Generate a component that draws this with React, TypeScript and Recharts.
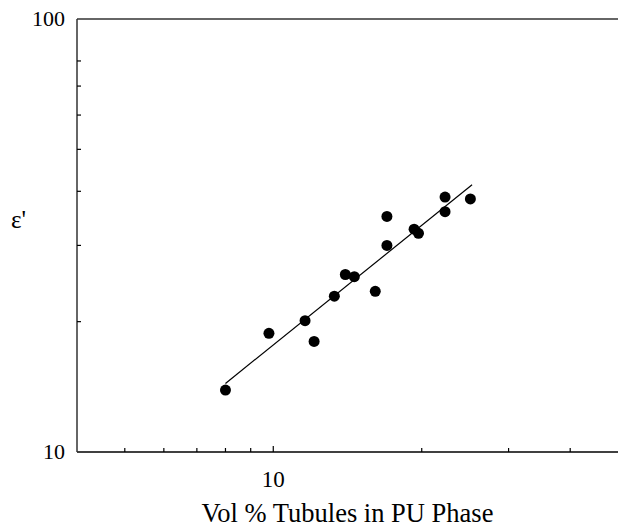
import React from "react";
import { ScatterChart, Scatter, XAxis, YAxis, ReferenceLine, Label } from "recharts";

// measured points (vol % tubules, epsilon')
const volPct = [8.0, 9.8, 12.1, 11.6, 13.3, 14.0, 14.6, 16.1, 17.0, 17.0, 19.3, 19.7, 22.3, 22.3, 25.1];
const epsilon = [13.9, 18.8, 18.0, 20.1, 22.9, 25.7, 25.4, 23.5, 30.0, 35.0, 32.7, 32.0, 35.9, 38.8, 38.4];

// fitted line end points
const fitX = [8.0, 25.3];
const fitY = [14.4, 41.4];

const xTicks = [5, 6, 7, 8, 9, 10, 20, 30, 40];
const yTicks = [10, 20, 30, 40, 50, 60, 70, 80, 90, 100];
const xLabelled = [10];
const yLabelled = [10, 100];

const points = volPct.map((v, i) => ({ x: v, y: epsilon[i] }));
const fit = fitX.map((v, i) => ({ x: v, y: fitY[i] }));

const serif = { fontFamily: "Liberation Serif, Times New Roman, serif" };

const XTick = (props: any) => {
  const { x, y, payload } = props;
  const major = xLabelled.includes(payload.value);
  return (
    <g>
      <line x1={x} x2={x} y1={y} y2={y - (major ? 6 : 4)} stroke="#000" strokeWidth={1.2} />
      {major && (
        <text x={x} y={y + 35} textAnchor="middle" style={serif} fontSize={23} fill="#000">
          {payload.value}
        </text>
      )}
    </g>
  );
};

const YTick = (props: any) => {
  const { x, y, payload } = props;
  const major = yLabelled.includes(payload.value);
  return (
    <g>
      {!major && <line x1={x} x2={x + 4} y1={y} y2={y} stroke="#000" strokeWidth={1.2} />}
      {major && (
        <text x={x - 12} y={y + 7} textAnchor="end" style={serif} fontSize={22} fill="#000">
          {payload.value}
        </text>
      )}
    </g>
  );
};

const Dot = (props: any) => <circle cx={props.cx} cy={props.cy} r={5.5} fill="#000" />;

export default function App() {
  return (
    <div style={{ position: "absolute", left: 0, top: 0, background: "#fff" }}>
      <ScatterChart width={618} height={528} margin={{ top: 19, right: 0, bottom: 0, left: 0 }}>
        <XAxis
          type="number"
          dataKey="x"
          scale="log"
          domain={[4, 50]}
          ticks={xTicks}
          allowDataOverflow
          height={76}
          tickSize={0}
          tickMargin={0}
          tickLine={false}
          tick={<XTick />}
          axisLine={{ stroke: "#000", strokeWidth: 1.5 }}
        >
          <Label
            content={() => (
              <text x={347.5} y={522} textAnchor="middle" style={serif} fontSize={26.5} fill="#000">
                Vol % Tubules in PU Phase
              </text>
            )}
          />
        </XAxis>
        <YAxis
          type="number"
          dataKey="y"
          scale="log"
          domain={[10, 100]}
          ticks={yTicks}
          allowDataOverflow
          width={77}
          tickSize={0}
          tickMargin={0}
          tickLine={false}
          tick={<YTick />}
          axisLine={{ stroke: "#333", strokeWidth: 1.5 }}
        >
          <Label
            content={() => (
              <text x={11} y={228} style={serif} fontSize={25} fill="#000">
                ε'
              </text>
            )}
          />
        </YAxis>
        <ReferenceLine y={100} stroke="#333" strokeWidth={1.5} />
        <Scatter data={fit} line={{ stroke: "#000", strokeWidth: 1.2 }} shape={() => null} isAnimationActive={false} />
        <Scatter data={points} shape={<Dot />} isAnimationActive={false} />
      </ScatterChart>
    </div>
  );
}
